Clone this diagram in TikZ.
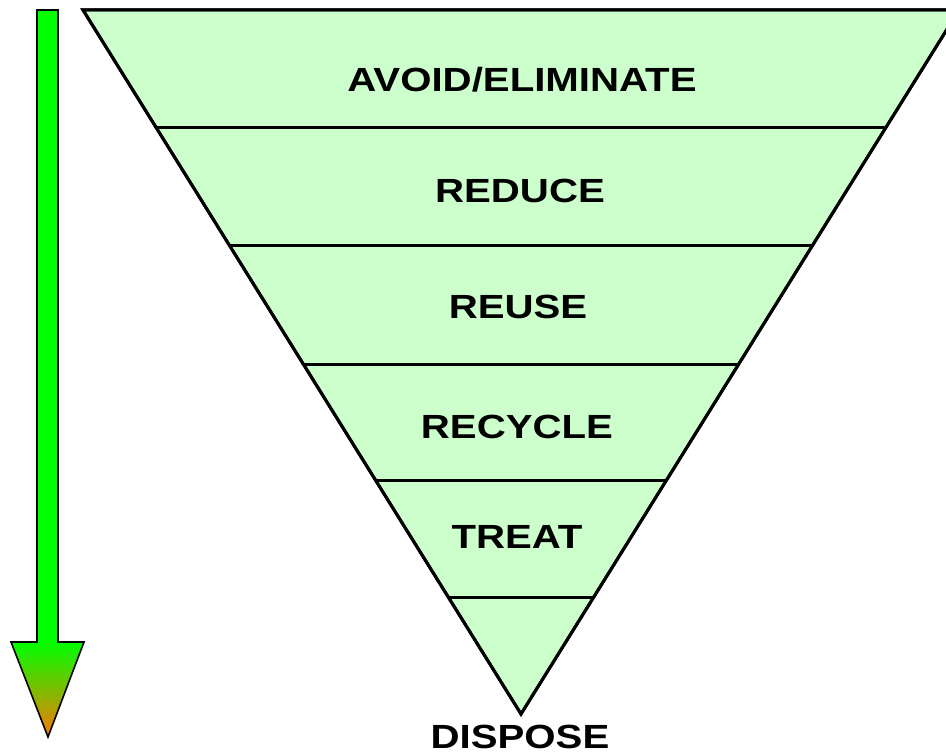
\documentclass[tikz,border=0pt]{standalone}
\usepackage{fontspec}
\newfontfamily\labfont[FakeStretch=1.2]{Liberation Sans}
\definecolor{bandfill}{RGB}{204,255,204}
\definecolor{arrgreen}{RGB}{0,255,0}
\definecolor{arrmid}{RGB}{150,235,0}
\definecolor{arrorange}{RGB}{250,120,0}
\begin{document}
\begin{tikzpicture}[x=1pt,y=-1pt,
  band/.style={fill=bandfill,draw=black,line width=3pt,line join=miter},
  divider/.style={draw=black,line width=3pt},
  lab/.style={anchor=base,inner sep=0pt,font=\labfont\bfseries\fontsize{33.5}{36}\selectfont},
  arrowline/.style={draw=black,line width=1.6pt,line join=miter}]
\useasboundingbox (0,0) rectangle (946,754);
\clip (0,0) rectangle (946,754);
% triangle geometry
\coordinate (tl) at (83,10);
\coordinate (tr) at (959,10);
\coordinate (tip) at (521,714);
% band boundaries
\foreach \y [count=\i] in {128,246,364,480,597}{
  \pgfmathsetmacro{\dx}{(\y-10)/704*438}
  \coordinate (l\i) at ({83+\dx},\y);
  \coordinate (r\i) at ({959-\dx},\y);
}
\path[band] (tl) -- (tr) -- (tip) -- cycle;
\foreach \i in {1,...,5}{ \draw[divider] (l\i) -- (r\i); }
\draw[line width=3pt,line join=miter] (tl) -- (tr) -- (tip) -- cycle;
% labels
\node[lab] (avoid) at (522,92) {AVOID/ELIMINATE};
\node[lab] (reduce) at (520,203) {REDUCE};
\node[lab] (reuse) at (518,319) {REUSE};
\node[lab] (recycle) at (517,438) {RECYCLE};
\node[lab] (treat) at (517,548) {TREAT};
\node[lab] (dispose) at (520,748) {DISPOSE};
% arrow
\coordinate (s1) at (37,10);
\coordinate (s2) at (58,10);
\coordinate (s3) at (58,642);
\coordinate (s4) at (37,642);
\coordinate (h1) at (11,642);
\coordinate (h2) at (84,642);
\coordinate (htip) at (48,737);
\fill[arrgreen] (s1) rectangle (s3);
\path[top color=arrgreen,middle color=arrmid,bottom color=arrorange] (h1) -- (h2) -- (htip) -- cycle;
\draw[arrowline] (s1) -- (s2) -- (s3) -- (h2) -- (htip) -- (h1) -- (s4) -- cycle;
\end{tikzpicture}
\end{document}
